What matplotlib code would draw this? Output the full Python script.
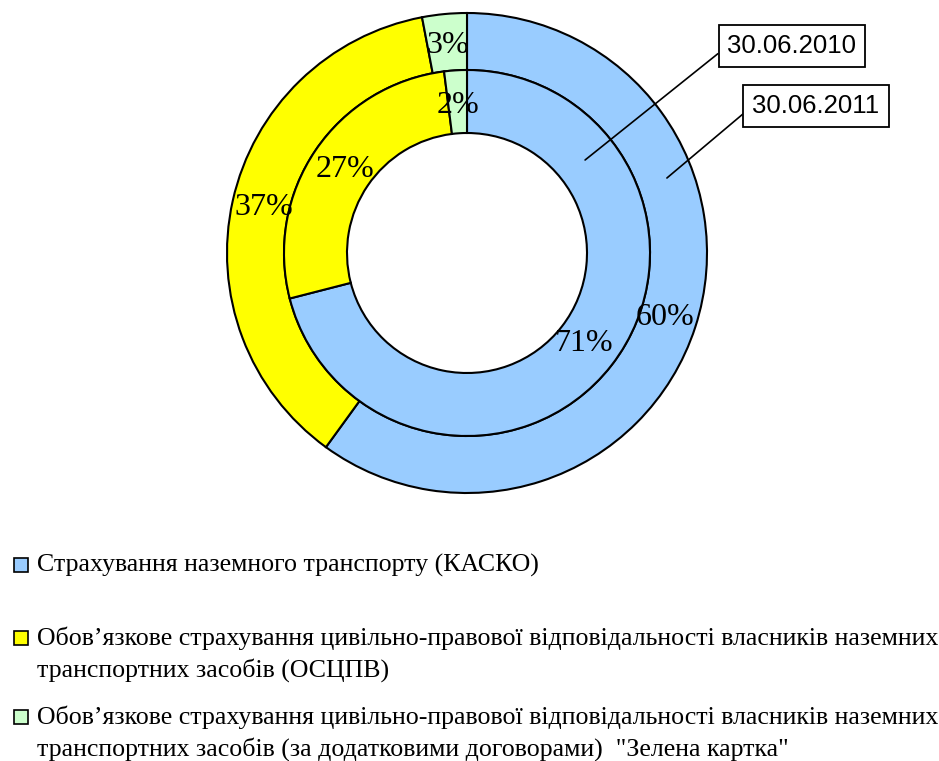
import matplotlib
matplotlib.use("Agg")
import matplotlib.pyplot as plt
from matplotlib.patches import Rectangle

# ---- data ----
categories = [
    "Страхування наземного транспорту (КАСКО)",
    "Обов\u2019язкове страхування цивільно-правової відповідальності власників наземних\nтранспортних засобів (ОСЦПВ)",
    "Обов\u2019язкове страхування цивільно-правової відповідальності власників наземних\nтранспортних засобів (за додатковими договорами)  \"Зелена картка\"",
]
values_2011 = [60, 37, 3]   # outer ring
values_2010 = [71, 27, 2]   # inner ring
ring_labels = ["30.06.2010", "30.06.2011"]
colors = ["#99CCFF", "#FFFF00", "#CCFFCC"]

W, H = 939, 761
fig = plt.figure(figsize=(W / 100, H / 100), dpi=100)

def fx(px):
    return px / W

def fy(py):
    return 1 - py / H

# pie axes: centre (467,253), outer radius 240 px
ax = fig.add_axes([fx(227), fy(493), 480 / W, 480 / H])

serif = "Liberation Serif"
wedge_kw = dict(edgecolor="black", linewidth=1.5)

outer_w = (240 - 183) / 240
inner_r = 183 / 240
inner_w = (183 - 120) / 240

ax.pie(values_2011, colors=colors, startangle=90, counterclock=False,
       radius=1.0, wedgeprops=dict(width=outer_w, **wedge_kw),
       autopct="%.0f%%", pctdistance=0.867,
       textprops=dict(family=serif, fontsize=23, color="black"))
ax.pie(values_2010, colors=colors, startangle=90, counterclock=False,
       radius=inner_r, wedgeprops=dict(width=inner_w, **wedge_kw),
       autopct="%.0f%%", pctdistance=0.809,
       textprops=dict(family=serif, fontsize=23, color="black"))
ax.set_xlim(-1, 1)
ax.set_ylim(-1, 1)
ax.set_aspect("equal")
ax.axis("off")

# callouts
box = dict(boxstyle="square,pad=0.35", facecolor="white", edgecolor="black", linewidth=1.3)
arrow = dict(arrowstyle="-", color="black", linewidth=1.2, relpos=(0, 0.5), shrinkA=0, shrinkB=0)
ax.annotate(ring_labels[0], xy=(0.492, 0.3875), xycoords="data",
            xytext=(fx(792), fy(46)), textcoords="figure fraction",
            ha="center", va="center", fontsize=18.5, family="Liberation Sans",
            bbox=box, arrowprops=arrow)
ax.annotate(ring_labels[1], xy=(0.833, 0.3125), xycoords="data",
            xytext=(fx(816), fy(106)), textcoords="figure fraction",
            ha="center", va="center", fontsize=18.5, family="Liberation Sans",
            bbox=box, arrowprops=arrow)

# legend (manual)
item_y = [565, 638, 717]
line_step = 32
fs_leg = 18.6
for cat, col, y0 in zip(categories, colors, item_y):
    fig.patches.append(Rectangle((fx(13.5), fy(y0 + 7)), 14 / W, 14 / H,
                                 transform=fig.transFigure, facecolor=col,
                                 edgecolor="black", linewidth=1.2))
    for i, line in enumerate(cat.split("\n")):
        fig.text(fx(37), fy(y0 + i * line_step), line, ha="left", va="center",
                 fontsize=fs_leg, family=serif, color="black")

fig.savefig("out.png", dpi=100)
